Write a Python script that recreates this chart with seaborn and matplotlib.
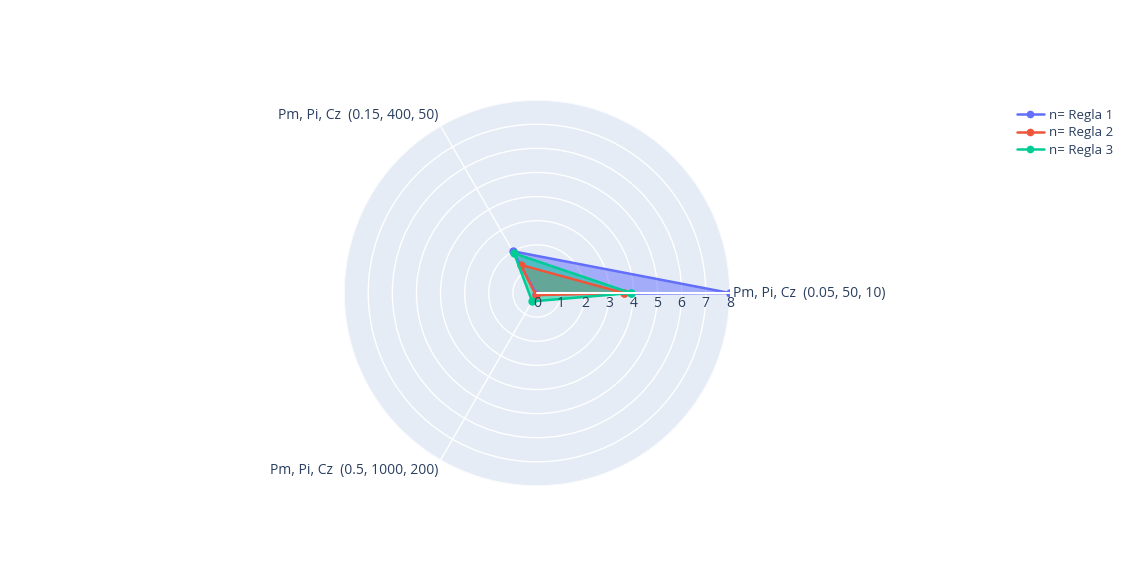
import numpy as np
import seaborn as sns
import matplotlib.pyplot as plt
import matplotlib.transforms as mtransforms
from matplotlib.lines import Line2D

categories = ['Pm, Pi, Cz  (0.05, 50, 10)', 'Pm, Pi, Cz  (0.15, 400, 50)', 'Pm, Pi, Cz  (0.5, 1000, 200)']
angles_deg = [0, 120, 240]
series_names = ['n= Regla 1', 'n= Regla 2', 'n= Regla 3']
regla1 = [8.0, 2.0, 0.05]
regla2 = [3.6, 1.35, 0.1]
regla3 = [3.9, 1.9, 0.4]
colors = ['#636EFA', '#EF553B', '#00CC96']
r_ticks = [0, 1, 2, 3, 4, 5, 6, 7, 8]

sns.set_style('white')
plt.rcParams['font.family'] = ['Open Sans', 'DejaVu Sans']

fig = plt.figure(figsize=(11.36, 5.69), dpi=100)
ax = fig.add_axes([0.4727 - 0.1699, 0.485 - 0.339, 0.3398, 0.678], projection='polar')
ax.set_facecolor('#E5ECF6')
ax.spines['polar'].set_visible(False)
ax.set_ylim(0, 8)
ax.set_yticks(r_ticks[1:])
ax.set_yticklabels([])
ax.set_xticks(np.deg2rad(angles_deg))
ax.set_xticklabels([])
ax.grid(color='white', linewidth=1)

theta = np.deg2rad(angles_deg + [angles_deg[0]])
for name, vals, c in zip(series_names, [regla1, regla2, regla3], colors):
    v = vals + [vals[0]]
    ax.fill(theta, v, color=c, alpha=0.5, zorder=3)
    ax.plot(theta, v, color=c, linewidth=1.8, marker='o', markersize=5, zorder=4)

ax.plot([0, 0], [0, 8], color='white', linewidth=1.5, zorder=5)
offset = ax.transData + mtransforms.ScaledTranslation(0, -0.03, fig.dpi_scale_trans)
for t in r_ticks:
    ax.text(0, t, str(t), ha='center', va='top', fontsize=10, color='#2a3f5f',
            transform=offset, zorder=6)

ha_list = ['left', 'right', 'right']
va_list = ['center', 'bottom', 'top']
for a, lab, ha, va in zip(angles_deg, categories, ha_list, va_list):
    ax.text(np.deg2rad(a), 8.15, lab, ha=ha, va=va, fontsize=10, color='#2a3f5f', clip_on=False)

handles = [Line2D([0], [0], color=c, marker='o', markersize=4.5, linewidth=1.8) for c in colors]
fig.legend(handles, series_names, loc='upper left', bbox_to_anchor=(0.885, 0.83), frameon=False,
           fontsize=9.5, labelcolor='#2a3f5f', handlelength=2.0, handletextpad=0.4, labelspacing=0.35)

fig.savefig('out.png', dpi=100)
